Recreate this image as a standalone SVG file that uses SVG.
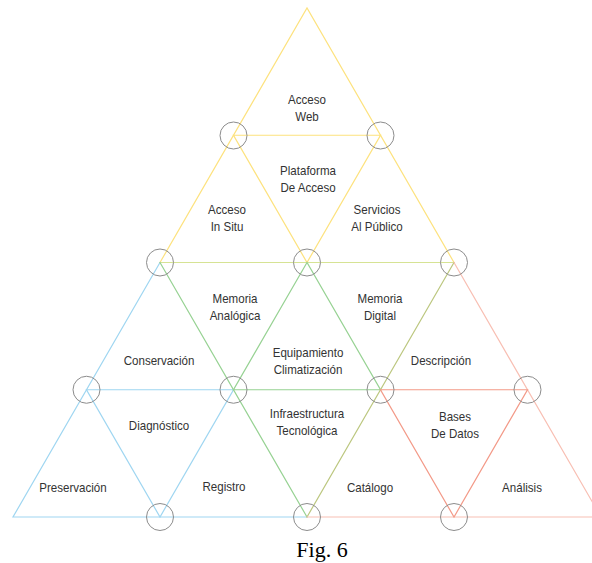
<svg xmlns="http://www.w3.org/2000/svg" width="592" height="563" viewBox="0 0 592 563">
<style>
  .l{fill:none;stroke-width:1.2;stroke-linecap:round}
  .y{stroke:#fde27e}
  .yg{stroke:#d6e394}
  .b{stroke:#9fd6f1}
  .g{stroke:#97d293}
  .o{stroke:#bcc77f}
  .r{stroke:#f39a88}
  .rl{stroke:#f8bfb3}
  .c{fill:none;stroke:#8c8c8c;stroke-width:1}
  .t{font-family:"Liberation Sans",Arial,sans-serif;font-size:13.6px;fill:#333;text-anchor:middle}
  .fig{font-family:"Liberation Serif","Times New Roman",serif;font-size:22px;fill:#000;text-anchor:middle}
</style>
<rect width="592" height="563" fill="#fff"/>
<g id="connectors">
  <path class="l y" d="M160,262.5 L307,8 L454,262.5"/>
  <path class="l y" d="M233.5,135.25 L380.5,135.25 L307,262.5 Z"/>
  <path class="l yg" d="M160,262.5 L454,262.5"/>
  <path class="l b" d="M160,262.5 L13,517 L307,517"/>
  <path class="l b" d="M86.5,389.75 L233.5,389.75 L160,517 Z"/>
  <path class="l g" d="M160,262.5 L307,517"/>
  <path class="l g" d="M307,262.5 L233.5,389.75 L380.5,389.75 Z"/>
  <path class="l o" d="M454,262.5 L307,517"/>
  <path class="l rl" d="M454,262.5 L601,517 L307,517"/>
  <path class="l r" d="M380.5,389.75 L527.5,389.75 L454,517 Z"/>
</g>
<g id="junctions">
  <circle class="c" cx="233.5" cy="135.5" r="13.5"/>
  <circle class="c" cx="380.5" cy="135.5" r="13.5"/>
  <circle class="c" cx="160" cy="262.5" r="13.5"/>
  <circle class="c" cx="307" cy="262.5" r="13.5"/>
  <circle class="c" cx="454" cy="262.5" r="13.5"/>
  <circle class="c" cx="86.5" cy="389.75" r="13.5"/>
  <circle class="c" cx="233.5" cy="389.75" r="13.5"/>
  <circle class="c" cx="380.5" cy="389.75" r="13.5"/>
  <circle class="c" cx="527.5" cy="389.75" r="13.5"/>
  <circle class="c" cx="160" cy="517" r="13.5"/>
  <circle class="c" cx="307" cy="517" r="13.5"/>
  <circle class="c" cx="454" cy="517" r="13.5"/>
</g>
<g id="acceso-web"><text class="t" transform="translate(307,104) scale(0.85,1)"><tspan x="0" y="0">Acceso</tspan><tspan x="0" y="17.5">Web</tspan></text></g>
<g id="plataforma"><text class="t" transform="translate(308,175) scale(0.85,1)"><tspan x="0" y="0">Plataforma</tspan><tspan x="0" y="17.5">De Acceso</tspan></text></g>
<g id="acceso-in-situ"><text class="t" transform="translate(227,214) scale(0.85,1)"><tspan x="0" y="0">Acceso</tspan><tspan x="0" y="17.5">In Situ</tspan></text></g>
<g id="servicios"><text class="t" transform="translate(377,214) scale(0.85,1)"><tspan x="0" y="0">Servicios</tspan><tspan x="0" y="17.5">Al Público</tspan></text></g>
<g id="memoria-analogica"><text class="t" transform="translate(235,303) scale(0.85,1)"><tspan x="0" y="0">Memoria</tspan><tspan x="0" y="17.5">Analógica</tspan></text></g>
<g id="memoria-digital"><text class="t" transform="translate(380,303) scale(0.85,1)"><tspan x="0" y="0">Memoria</tspan><tspan x="0" y="17.5">Digital</tspan></text></g>
<g id="conservacion"><text class="t" transform="translate(159,365) scale(0.85,1)">Conservación</text></g>
<g id="equipamiento"><text class="t" transform="translate(308,357) scale(0.85,1)"><tspan x="0" y="0">Equipamiento</tspan><tspan x="0" y="17.5">Climatización</tspan></text></g>
<g id="descripcion"><text class="t" transform="translate(441,365) scale(0.85,1)">Descripción</text></g>
<g id="diagnostico"><text class="t" transform="translate(159,430) scale(0.85,1)">Diagnóstico</text></g>
<g id="infraestructura"><text class="t" transform="translate(307,418) scale(0.85,1)"><tspan x="0" y="0">Infraestructura</tspan><tspan x="0" y="17.5">Tecnológica</tspan></text></g>
<g id="bases-de-datos"><text class="t" transform="translate(455,421) scale(0.85,1)"><tspan x="0" y="0">Bases</tspan><tspan x="0" y="17.5">De Datos</tspan></text></g>
<g id="preservacion"><text class="t" transform="translate(73,492) scale(0.85,1)">Preservación</text></g>
<g id="registro"><text class="t" transform="translate(224,491) scale(0.85,1)">Registro</text></g>
<g id="catalogo"><text class="t" transform="translate(370,492) scale(0.85,1)">Catálogo</text></g>
<g id="analisis"><text class="t" transform="translate(522,492) scale(0.85,1)">Análisis</text></g>
<text class="fig" x="322" y="557">Fig. 6</text>
</svg>
